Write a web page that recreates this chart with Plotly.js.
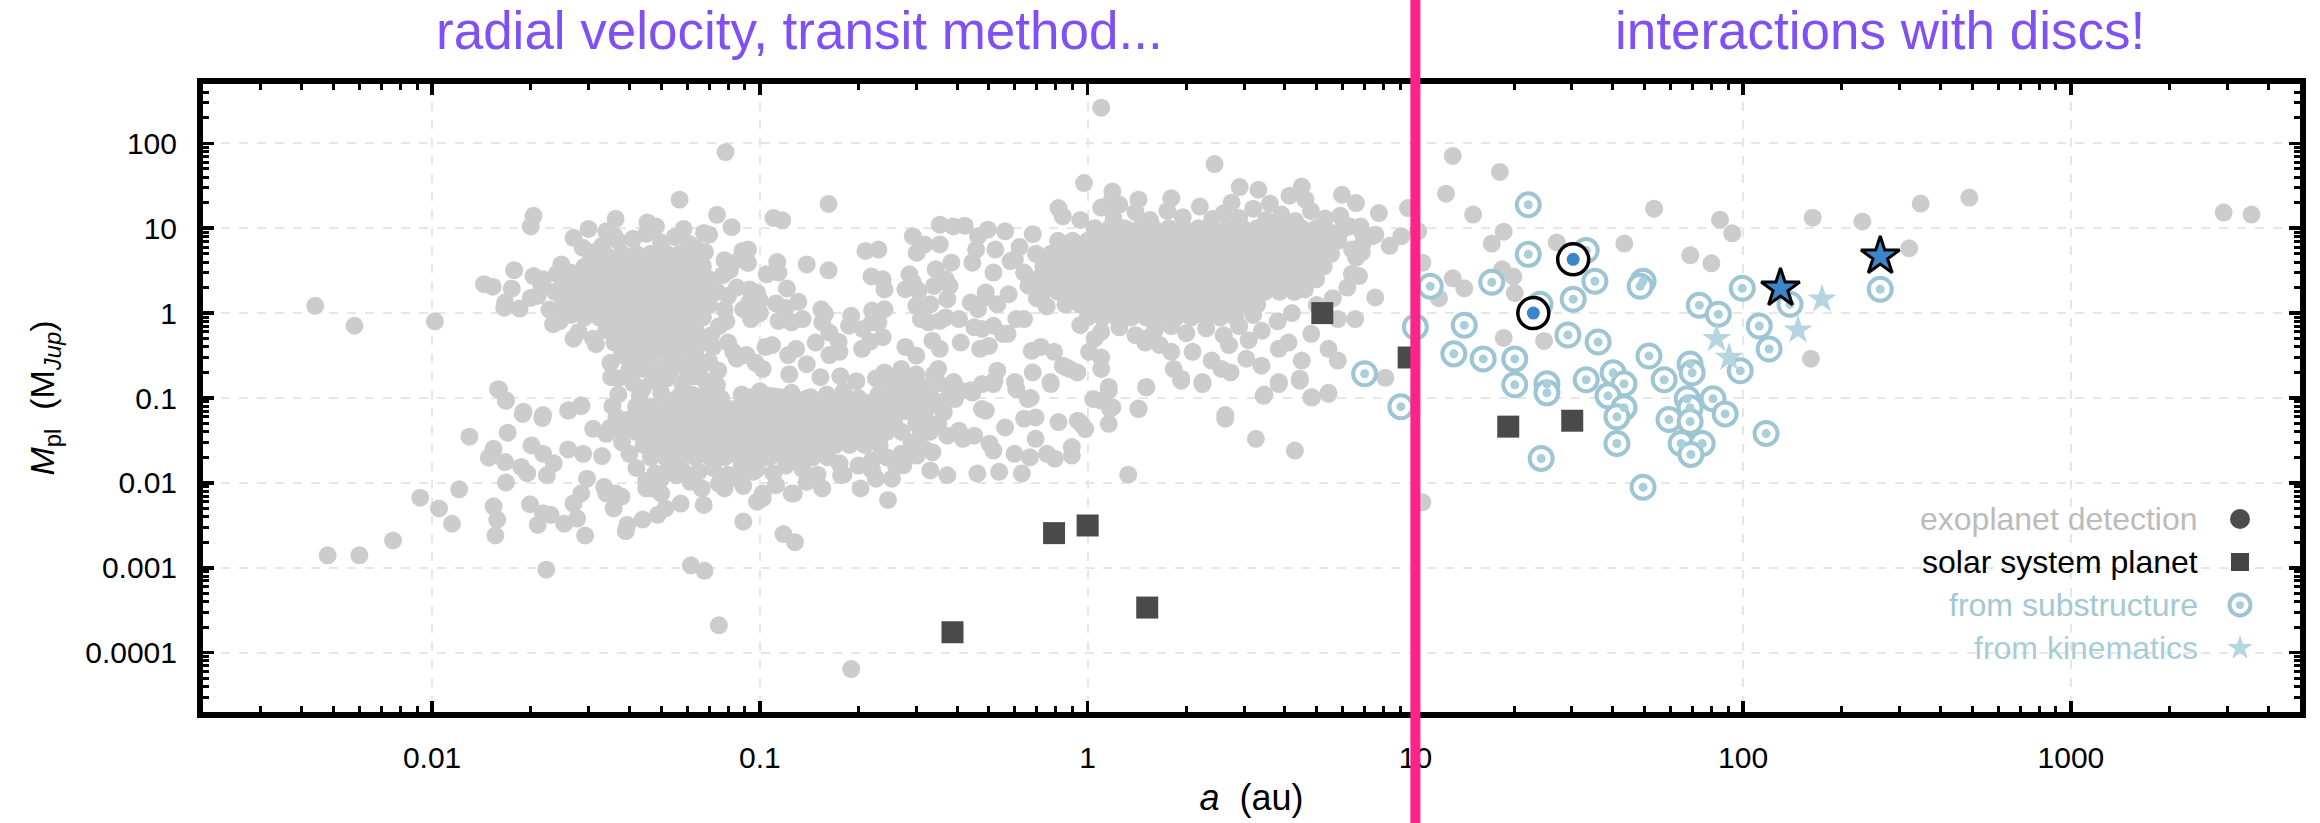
<!DOCTYPE html>
<html><head><meta charset="utf-8">
<script src="https://cdn.plot.ly/plotly-3.0.1.min.js"></script>
<style>html,body{margin:0;padding:0;background:#fff}#chart{width:2320px;height:823px}</style>
</head><body><div id="chart"></div>
<script>
// ---------------- DATA (a in au, M in M_Jup) ----------------
const innerScatter = [
[0.0786,79],[0.0569,21.7],[0.162,19.3],[0.0204,14],[0.020,10.5],[0.0363,12.9],[0.0454,11.7],[0.0482,10.5],[0.074,14.4],[0.082,10.3],[0.11,13.2],[0.117,12.4],[0.030,9.8],[0.034,9.2],[0.036,8.05],[0.027,7.7],[0.0288,5.9],[0.0585,9.8],[0.0675,8.8],[0.070,8.4],[0.068,5.25],[0.0885,5.4],[0.092,5.6],[0.113,4.0],[0.139,3.75],[0.162,3.19],[0.21,5.4],[0.219,2.7],[0.0248,3.75],[0.0305,4.36],[0.0178,3.2],[0.0144,2.19],[0.0153,2.05],[0.0175,1.94],[0.0167,1.33],[0.0166,1.16],[0.0185,1.13],[0.020,1.51],[0.0204,2.73],[0.0218,2.5],[0.0044,1.22],[0.0058,0.71],[0.0102,0.80],[0.0234,0.74],[0.027,0.50],[0.0316,0.43],[0.0352,0.176],[0.016,0.126],[0.0168,0.094],[0.019,0.069],[0.0218,0.063],[0.0261,0.0716],[0.0285,0.082],[0.0746,0.211],[0.074,0.141],[0.074,0.086],[0.058,0.117],[0.0638,0.102],
[0.089,5.1],[0.087,4.3],[0.092,3.9],[0.105,2.86],[0.114,3.0],[0.121,1.95],[0.131,1.36],[0.093,1.9],[0.098,1.74],[0.089,1.11],[0.094,0.85],[0.114,0.81],[0.125,0.78],[0.135,0.85],[0.154,1.11],[0.158,0.98],[0.155,0.78],[0.163,0.59],[0.19,0.93],[0.187,0.71],[0.206,0.65],[0.22,1.07],[0.22,0.78],[0.205,0.38],[0.217,0.46],[0.174,0.46],[0.163,0.32],[0.175,0.35],[0.148,0.45],[0.139,0.25],[0.153,0.176],[0.176,0.181],[0.197,0.158],[0.226,0.17],[0.129,0.38],[0.122,0.32],[0.123,0.19],[0.109,0.42],[0.104,0.40],[0.102,0.22],[0.097,0.26],[0.085,0.29],[0.091,0.32],[0.112,1.3],[0.12,1.15],[0.10,1.4],[0.093,1.35],[0.10,1.0],[0.081,3.2],[0.085,2.0],[0.08,0.45],[0.083,0.35],[0.079,0.8],
[0.094,0.102],[0.106,0.106],[0.115,0.102],[0.128,0.10],[0.143,0.102],[0.155,0.075],[0.10,0.075],[0.112,0.075],[0.125,0.075],[0.139,0.075],[0.185,0.10],[0.197,0.082],[0.226,0.082],
[0.0159,0.127],[0.0168,0.093],[0.0189,0.065],[0.0217,0.058],[0.026,0.071],[0.0285,0.080],[0.013,0.035],[0.017,0.039],[0.0154,0.0252],[0.0149,0.0198],[0.0167,0.0176],[0.0187,0.0154],[0.0201,0.0276],[0.0218,0.0221],[0.0224,0.0123],[0.0168,0.0101],[0.0195,0.013],[0.0235,0.017],[0.026,0.0248],[0.0289,0.022],[0.031,0.0434],[0.034,0.0378],[0.033,0.0207],[0.0297,0.0112],[0.0285,0.0075],[0.0335,0.009],[0.034,0.0075],[0.0378,0.0069],[0.027,0.0057],[0.0277,0.0038],[0.0199,0.0056],[0.0218,0.0044],[0.023,0.0042],[0.0253,0.0033],[0.021,0.0032],[0.0154,0.0053],[0.0158,0.0037],[0.0156,0.0024],[0.0121,0.0084],[0.0092,0.0067],[0.0105,0.005],[0.0115,0.0033],[0.0076,0.0021],[0.006,0.0014],[0.0048,0.0014],[0.0223,0.00095],[0.0293,0.0024],[0.0358,0.005],[0.0394,0.0032],[0.0439,0.0037],[0.0488,0.0042],[0.0515,0.005],[0.0573,0.0057],[0.0674,0.0055],[0.039,0.0027],[0.0363,0.0075],[0.045,0.0086],[0.050,0.0075],[0.078,0.0086],[0.089,0.0092],[0.098,0.006],[0.089,0.0035],[0.118,0.0025],[0.128,0.002],[0.0616,0.00107],[0.0678,0.00092],[0.075,0.00021],[0.19,0.000064],[0.139,0.0103],[0.155,0.0086],[0.203,0.0086],[0.127,0.0075],[0.102,0.0066],[0.244,0.02],[0.22,0.014],[0.18,0.0125],
[0.0469,0.0086],[0.050,0.0112],[0.0558,0.0123],[0.0614,0.0103],[0.0665,0.0086],[0.0857,0.0112],[0.0955,0.0135],[0.102,0.0075],[0.112,0.0094],[0.125,0.0075],[0.177,0.0123],[0.226,0.0112]
];
const warmScatter = [
[1.1,263],[2.44,57],[0.975,34],[1.19,27],[1.18,20.7],[1.25,18.9],[1.43,21.7],[1.8,22.6],[2.91,30.5],[3.32,28.4],[4.13,24.2],[4.5,31],[4.62,21.7],[5.97,24.8],[6.59,19.8],[7.74,15.1],[7.55,8.4],[8.35,6.2],[9.06,8.05],[6.73,2.73],[7.54,1.53],[5.8,0.85],[6.55,0.85],[5.8,0.276],[5.43,0.112],[4.84,0.102],[4.44,0.169],[3.83,0.154],[3.46,0.11],[2.63,0.063],[2.24,0.154],[1.93,0.169],[1.83,0.22],[1.51,0.135],[1.43,0.075],[1.16,0.135],[1.1,0.093],[1.17,0.075],[0.77,0.154],[0.88,0.22],[0.84,0.24],[0.68,0.20],[0.60,0.154],[0.67,0.10],[0.52,0.16],[0.53,0.21],[0.35,0.22],[0.354,0.38],[0.39,0.154],[0.44,0.123],[0.30,0.107],[0.27,0.22],[0.30,0.316],[0.278,0.40],[0.336,0.474],[0.41,0.45],[0.47,0.38],[0.50,0.41],[0.57,0.57],[0.64,0.85],[0.675,0.36],[0.72,0.40],[0.79,0.35],[0.86,0.23],[0.93,0.20],[1.01,0.35],[1.1,0.30],[1.1,0.22],[1.49,0.50],[1.66,0.42],[1.8,0.35],[2.09,0.35],[2.39,0.276],[2.56,0.22],[2.73,0.20],[3.05,0.29],[3.39,0.24],[3.83,0.38],[4.1,0.45],[4.5,0.276],[5.43,0.38],[4.81,0.57],[6.41,5.6],[6.86,5.2],[5.97,9.6],[6.3,10.5],[6.8,10.5],[7.4,8.05],[9.5,17.3],[10.2,9.2],[10.5,3.93],[0.815,17.3],[0.84,13.8],
[0.293,8.05],[0.318,6.44],[0.301,5.14],[0.354,6.44],[0.354,11],[0.389,10.5],[0.422,10.7],[0.384,3.93],[0.344,3.28],[0.34,2.09],[0.369,2.5],[0.379,2.09],[0.373,1.46],[0.286,2.86],[0.278,1.91],[0.293,2.29],[0.305,1.83],[0.457,5.6],[0.445,3.93],[0.496,9.6],[0.463,8.05],[0.56,9.2],[0.523,5.6],[0.582,4.1],[0.516,3.0],[0.44,1.33],[0.489,1.53],[0.463,1.11],[0.53,1.27],[0.574,1.67],[0.489,1.75],[0.606,0.85],[0.552,0.57],[0.476,0.65],[0.451,0.68],[0.516,0.71],[0.354,0.81],[0.327,0.78],[0.31,0.85],[0.30,1.22],[0.331,1.27],[0.369,0.89],[0.405,0.85],[0.23,0.78],[0.237,0.52],[0.24,1.11],[0.23,5.6],[0.237,2.5],[0.24,1.9],
[0.301,0.111],[0.41,0.122],[0.445,0.116],[0.476,0.146],[0.516,0.146],[0.327,0.081],[0.364,0.068],[0.344,0.047],[0.394,0.097],[0.405,0.041],[0.451,0.036],[0.476,0.074],[0.489,0.071],[0.373,0.036],[0.416,0.033],[0.318,0.025],[0.336,0.023],[0.301,0.021],[0.56,0.045],[0.516,0.024],[0.502,0.029],[0.598,0.022],[0.64,0.057],[0.694,0.059],[0.667,0.020],[0.752,0.022],[0.794,0.0193],[0.895,0.0264],[0.895,0.021],[0.694,0.033],[0.815,0.052],[0.958,0.0496],[0.933,0.054],[0.984,0.043],[1.16,0.0496],[1.19,0.078],[1.04,0.097],[1.16,0.122],[1.43,0.074],[0.657,0.097],[0.606,0.127],[0.772,0.146],[1.51,0.133],[1.93,0.16],[2.24,0.146],[3.44,0.106],[3.83,0.146],[4.44,0.16],[4.81,0.102],[5.43,0.115],[2.63,0.057],[3.26,0.033],[4.29,0.024],[1.33,0.0125],[0.461,0.0129],[0.537,0.0135],[0.63,0.0129],[0.373,0.0123],[0.331,0.014],[0.274,0.0161],[0.253,0.0112],[0.246,0.0063],
[0.24,0.2],[0.27,0.2],[0.30,0.19],[0.34,0.19],[0.25,0.15],[0.28,0.15],[0.31,0.14],[0.35,0.15],[0.38,0.12],[0.24,0.11],[0.27,0.11],[0.33,0.11],[0.36,0.09],[0.26,0.08],[0.29,0.085],[0.32,0.07],[0.33,0.04],[0.32,0.055],[0.35,0.05],[0.30,0.065]
];
const wideOrbitExo = [
[13.0,71],[18.1,46],[12.4,25.5],[15.0,14.5],[18.6,9.1],[17.1,6.6],[27.0,6.8],[43.4,6.6],[53.5,17],[85,12.6],[92.6,8.7],[69,4.8],[80,3.86],[163,13.3],[231,12],[348,19.5],[490,23],[321,5.8],[161,0.29],[13,2.57],[14.1,1.96],[20.1,1.72],[19.9,2.7],[18.4,3.28],[24.7,0.47],[18.6,0.51],[11.8,1.5],[8.1,0.173],[2924,15.3],[3557,14.5],[10.5,0.0059]
];
// crowded groups: interior read row by row, ragged borders read point by point
const hotRowsM = [5.0,3.55,2.5,1.78,1.26,0.89,0.63,0.45,0.32,0.22];
const hotRowsA = [
 [0.038,0.042,0.0465,0.052,0.057],
 [0.0292,0.0324,0.036,0.040,0.044,0.049,0.054,0.060,0.067],
 [0.025,0.0277,0.0307,0.034,0.038,0.042,0.0465,0.052,0.057,0.0635,0.070],
 [0.0237,0.0263,0.0292,0.0324,0.036,0.040,0.044,0.049,0.054,0.060,0.067,0.074],
 [0.025,0.0277,0.0307,0.034,0.038,0.042,0.0465,0.052,0.057,0.0635,0.070],
 [0.0292,0.0324,0.036,0.040,0.044,0.049,0.054,0.060,0.067],
 [0.034,0.038,0.042,0.0465,0.052,0.057,0.0635],
 [0.036,0.040,0.044,0.049,0.054,0.060,0.067],
 [0.038,0.042,0.0465,0.052,0.057,0.0635],
 [0.040,0.044,0.049,0.054,0.060]
];
const hotBorder = [
[0.041,7.5],[0.045,8.6],[0.05,6.8],[0.055,7.9],[0.061,6.5],[0.033,6.2],[0.037,7.0],[0.047,10.5],[0.064,5.8],[0.031,5.2],[0.0345,4.6],[0.0625,4.4],
[0.0215,2.2],[0.021,1.6],[0.0228,1.1],[0.0245,0.8],[0.0265,3.0],[0.028,0.6],[0.031,0.5],[0.024,2.9],[0.0265,0.95],
[0.077,2.8],[0.08,1.6],[0.078,1.1],[0.075,0.7],[0.072,0.4],[0.07,0.27],[0.078,4.2],[0.071,0.55],
[0.037,0.17],[0.041,0.15],[0.047,0.16],[0.052,0.17],[0.058,0.15],[0.063,0.18],[0.068,0.16],[0.044,0.13],[0.035,0.26],[0.066,0.24]
];
const seRowsM = [0.079,0.056,0.040,0.028,0.020];
const seRowsA = [
 [0.0419,0.0465,0.0516,0.0572,0.0635,0.0704,0.078,0.0866,0.096,0.1066,0.118,0.131,0.145,0.161,0.179,0.198,0.220,0.244],
 [0.0398,0.0442,0.049,0.0543,0.0603,0.0668,0.0741,0.0822,0.0912,0.101,0.112,0.124,0.138,0.153,0.170,0.188,0.209,0.232,0.257],
 [0.0378,0.0419,0.0465,0.0516,0.0572,0.0635,0.0704,0.078,0.0866,0.096,0.1066,0.118,0.131,0.145,0.161,0.179,0.198,0.220,0.244,0.271],
 [0.0442,0.049,0.0543,0.0603,0.0668,0.0741,0.0822,0.0912,0.101,0.112,0.124,0.138,0.153,0.170,0.188,0.209,0.232],
 [0.0465,0.0516,0.0572,0.0635,0.0704,0.078,0.0866,0.096,0.1066,0.118,0.131,0.145,0.161]
];
const seBorder = [
[0.037,0.11],[0.043,0.105],[0.05,0.115],[0.056,0.1],[0.062,0.11],[0.069,0.12],[0.076,0.1],[0.088,0.11],[0.1,0.12],[0.11,0.105],[0.125,0.115],[0.14,0.1],[0.16,0.11],[0.18,0.12],[0.2,0.1],[0.23,0.11],[0.26,0.095],[0.095,0.095],[0.17,0.092],[0.215,0.088],
[0.042,0.015],[0.048,0.013],[0.053,0.016],[0.058,0.014],[0.065,0.0135],[0.072,0.015],[0.08,0.0125],[0.088,0.016],[0.098,0.0145],[0.11,0.013],[0.12,0.016],[0.135,0.0145],[0.15,0.0125],[0.175,0.017],[0.2,0.016],[0.22,0.0185],[0.045,0.0105],[0.062,0.011],[0.075,0.0098],
[0.29,0.03],[0.3,0.05],[0.28,0.07],[0.31,0.038],[0.27,0.022],[0.26,0.016],[0.285,0.09],
[0.0365,0.06],[0.035,0.045],[0.038,0.03],[0.04,0.022],[0.0355,0.08]
];
const giantRowsM = [10,7.1,5.0,3.55,2.5,1.78,1.26,0.89];
const giantRowsA = [
 [1.05,1.17,1.30,1.44,1.59,1.77,1.96,2.18,2.41,2.68,2.97,3.29,3.65,4.05,4.49,4.98],
 [0.813,0.90,1.0,1.11,1.23,1.36,1.51,1.68,1.86,2.07,2.29,2.54,2.82,3.13,3.47,3.85,4.27,4.73,5.25,5.82],
 [0.696,0.772,0.856,0.95,1.05,1.17,1.30,1.44,1.59,1.77,1.96,2.18,2.41,2.68,2.97,3.29,3.65,4.05,4.49,4.98,5.53],
 [0.733,0.813,0.90,1.0,1.11,1.23,1.36,1.51,1.68,1.86,2.07,2.29,2.54,2.82,3.13,3.47,3.85,4.27,4.73,5.25],
 [0.696,0.772,0.856,0.95,1.05,1.17,1.30,1.44,1.59,1.77,1.96,2.18,2.41,2.68,2.97,3.29,3.65,4.05,4.49,4.98],
 [0.733,0.813,0.90,1.0,1.11,1.23,1.36,1.51,1.68,1.86,2.07,2.29,2.54,2.82,3.13,3.47,3.85,4.27],
 [0.856,0.95,1.05,1.17,1.30,1.44,1.59,1.77,1.96,2.18,2.41,2.68,2.97,3.29],
 [1.0,1.11,1.23,1.36,1.51,1.68,1.86,2.07,2.29,2.54,2.82]
];
const giantBorder = [
[1.2,13],[1.4,15.5],[1.55,12.5],[1.75,16],[1.95,13.5],[2.2,18],[2.4,12.8],[2.6,15],[2.9,13.2],[3.2,17],[3.5,12.5],[3.9,14.5],[4.3,12.2],[4.8,16],[5.3,13],[5.9,14],[0.95,12.5],[1.1,17.5],[2.75,20],[3.6,19.5],[5.4,9.2],
[0.62,6.0],[0.64,3.0],[0.60,4.3],[0.66,2.1],[0.7,1.5],[0.75,1.2],[0.68,8.5],
[6.6,4.5],[6.9,6.5],[6.4,2.9],[6.2,2.0],[5.6,1.5],[5.0,1.25],[6.9,8.8],[4.6,1.9],
[0.95,0.72],[1.1,0.6],[1.25,0.68],[1.4,0.55],[1.6,0.62],[1.8,0.7],[2.0,0.58],[2.3,0.66],[2.6,0.55],[2.9,0.7],[3.4,0.62],[1.05,0.5],[1.5,0.45],[2.7,0.42],[3.1,0.48],[3.8,0.8],[4.2,1.0],[3.2,0.95]
];
// solar system planets
const solarNames = ['Mercury','Venus','Earth','Mars','Jupiter','Saturn','Uranus','Neptune'];
const solarA = [0.387,0.79,1.0,1.52,5.2,9.54,19.2,30.1];
const solarM = [0.000174,0.00256,0.00315,0.00034,1.0,0.30,0.046,0.054];
// planets inferred from disc substructure
const subA = [22.1,33.2,22.1,17.1,11.1,35.3,30.3,49.5,48.5,24.0,10.0,14.1,29.2,36.1,13.1,16.1,20.1,7.0,9.03,20.1,25.2,25.2,33.2,40.1,43.3,38.7,43.3,41.2,51.6,57.4,68.9,69.9,67.5,68.9,80.9,88.1,59.4,68.9,41.2,64.7,75.0,69.3,24.2,49.5,73.5,84.0,99.4,112,120,117.5,98,139,262];
const subM = [18.9,5.48,4.92,2.31,2.07,2.37,1.46,2.37,2.07,1.27,0.685,0.72,0.552,0.457,0.331,0.289,0.289,0.193,0.079,0.143,0.147,0.115,0.164,0.198,0.147,0.106,0.077,0.060,0.313,0.164,0.252,0.198,0.098,0.077,0.098,0.065,0.0557,0.0527,0.0291,0.0291,0.0291,0.0216,0.0194,0.0089,1.24,0.97,1.96,0.705,0.378,0.0381,0.209,1.27,1.91];
// planets inferred from disc kinematics
const kinA = [174,147,83,90.6];
const kinM = [1.46,0.63,0.50,0.30];
// highlighted planets in discs
const imagedA = [30.3,22.9];
const imagedM = [4.3,1.0];
const kinHiA = [130,262];
const kinHiM = [1.96,4.66];
// labels
const legendLabels = ['exoplanet detection','solar system planet','from substructure','from kinematics'];
const legendColors = ['#bbbbbb','#000000','#a2c8d5','#a7ccd8'];
const headerLeft = 'radial velocity, transit method...';
const headerRight = 'interactions with discs!';
const xTitle = '<i>a</i>\u00a0\u00a0(au)';
const yTitle = '<i>M</i><sub>pl</sub>\u00a0\u00a0(M<sub><i>Jup</i></sub>)';

// ---------------- BUILD ----------------
function rowsToPoints(rowsM, rowsA){ const p=[]; rowsM.forEach((m,i)=>rowsA[i].forEach(a=>p.push([a,m]))); return p; }
const exo = [].concat(innerScatter, warmScatter, wideOrbitExo,
  rowsToPoints(hotRowsM,hotRowsA), hotBorder,
  rowsToPoints(seRowsM,seRowsA), seBorder,
  rowsToPoints(giantRowsM,giantRowsA), giantBorder);

const F = 'Liberation Sans, Arial, Helvetica, sans-serif';
const ringColor = '#9dc5d3', dotColor = '#a9cfdb', kinColor = '#b5d5df', blue = '#3a86c8';

const traces = [
  {x: exo.map(p=>p[0]), y: exo.map(p=>p[1]), mode:'markers', type:'scatter', hoverinfo:'skip',
   marker:{size:18, color:'#cccccc', line:{width:0}}},
  {x: solarA, y: solarM, text: solarNames, mode:'markers', type:'scatter',
   marker:{symbol:'square', size:22, color:'#4a4a4a', line:{width:0}}},
  {x: subA, y: subM, mode:'markers', type:'scatter', hoverinfo:'skip',
   marker:{symbol:'circle', size:23, color:'#ffffff', line:{color:ringColor, width:4}}},
  {x: subA, y: subM, mode:'markers', type:'scatter', hoverinfo:'skip',
   marker:{symbol:'circle', size:9, color:dotColor, line:{width:0}}},
  {x: kinA, y: kinM, mode:'markers', type:'scatter',
   marker:{symbol:'star', size:22, color:kinColor, line:{width:0}}},
  {x: imagedA, y: imagedM, mode:'markers', type:'scatter', hoverinfo:'skip',
   marker:{symbol:'circle', size:31, color:'#ffffff', line:{color:'#000', width:3.5}}},
  {x: imagedA, y: imagedM, mode:'markers', type:'scatter',
   marker:{symbol:'circle', size:13, color:blue, line:{width:0}}},
  {x: kinHiA, y: kinHiM, mode:'markers', type:'scatter',
   marker:{symbol:'star', size:29, color:blue, line:{color:'#000', width:3}}}
];

// legend: text right-aligned, symbol on the right
const W = 2320, H = 823, ml = 203, mr = 20, mt = 84, mb = 111;
const pw = W-ml-mr, ph = H-mt-mb;
const legSymX = (2240-ml)/pw, legTextX = (2200-ml)/pw;
const legY = i => (H-mb-(519+43*i))/ph;
const legendSymbols = [
  {symbol:'circle', size:20, color:'#4d4d4d', line:{width:0}},
  {symbol:'square', size:18, color:'#444444', line:{width:0}},
  {symbol:'circle', size:21, color:'#ffffff', line:{color:ringColor, width:4}},
  {symbol:'star', size:19, color:kinColor, line:{width:0}}
];
legendSymbols.forEach((m,i)=>{
  traces.push({x:[legSymX], y:[legY(i)], xaxis:'x2', yaxis:'y2', mode:'markers', type:'scatter', hoverinfo:'skip', marker:m});
  if(i===2) traces.push({x:[legSymX], y:[legY(i)], xaxis:'x2', yaxis:'y2', mode:'markers', type:'scatter', hoverinfo:'skip', marker:{symbol:'circle', size:8, color:dotColor}});
});

const annotations = [
  {text: headerLeft, xref:'paper', yref:'paper', x:(799-ml)/pw, y:(H-mb-31)/ph, xanchor:'center', yanchor:'middle', showarrow:false,
   font:{family:F, size:53, color:'#7f50f3'}},
  {text: headerRight, xref:'paper', yref:'paper', x:(1880-ml)/pw, y:(H-mb-31)/ph, xanchor:'center', yanchor:'middle', showarrow:false,
   font:{family:F, size:53, color:'#7f50f3'}}
];
legendLabels.forEach((t,i)=>annotations.push({text:t, xref:'paper', yref:'paper', x:legTextX, y:legY(i), xanchor:'right', yanchor:'middle',
  showarrow:false, font:{family:F, size:32, color:legendColors[i]}}));

const axisCommon = {
  type:'log', dtick:1, tick0:0, exponentformat:'none',
  showline:true, linewidth:6, linecolor:'#000', mirror:'allticks',
  ticks:'inside', ticklen:11, tickwidth:3.5, tickcolor:'#000',
  showgrid:true, gridcolor:'#e6e6e6', gridwidth:2, griddash:'dash', zeroline:false,
  tickfont:{family:F, size:30, color:'#000'},
  minor:{ticks:'inside', ticklen:6, tickwidth:3, tickcolor:'#000', dtick:'D1', showgrid:false},
  automargin:false, fixedrange:true
};

const layout = {
  width:W, height:H, margin:{l:ml, r:mr, t:mt, b:mb, pad:0},
  paper_bgcolor:'#fff', plot_bgcolor:'#fff', showlegend:false,
  xaxis: Object.assign({}, axisCommon, {range:[Math.log10(0.002), Math.log10(5000)], ticklabelstandoff:14,
    title:{text:xTitle, font:{family:F, size:36, color:'#000'}, standoff:14}}),
  yaxis: Object.assign({}, axisCommon, {range:[Math.log10(2e-5), Math.log10(500)], ticklabelstandoff:14,
    title:{text:yTitle, font:{family:F, size:34, color:'#000'}, standoff:22}}),
  xaxis2:{overlaying:'x', anchor:'y2', range:[0,1], visible:false, fixedrange:true},
  yaxis2:{overlaying:'y', anchor:'x2', range:[0,1], visible:false, fixedrange:true},
  shapes:[{type:'line', xref:'x', yref:'paper', x0:10, x1:10, y0:-0.3, y1:1.3, layer:'above',
    line:{color:'#ff2288', width:10}}],
  annotations: annotations
};

Plotly.newPlot('chart', traces, layout, {staticPlot:true, displayModeBar:false});
</script>
</body></html>
